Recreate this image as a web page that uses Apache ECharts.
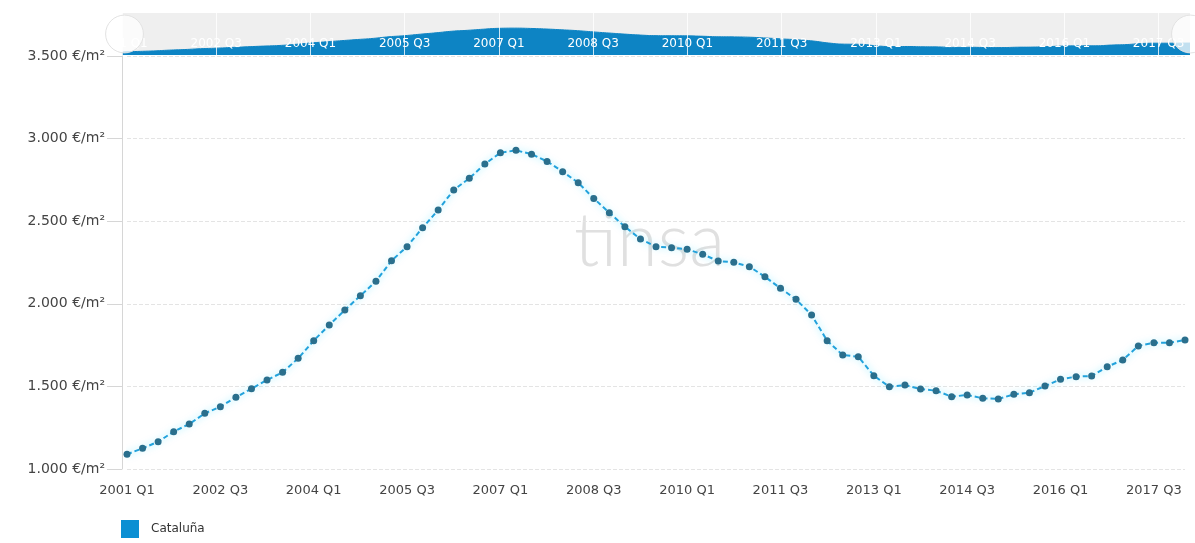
<!DOCTYPE html>
<html>
<head>
<meta charset="utf-8">
<script src="https://cdn.jsdelivr.net/npm/echarts@6/dist/echarts.min.js"></script>
<style>
  html, body { margin: 0; padding: 0; background: #fff; }
  #chart { width: 1195px; height: 543px; }
</style>
</head>
<body>
<div id="chart"></div>
<script>
// quarters 2001 Q1 .. 2018 Q1
var quarters = [];
for (var y = 2001; y <= 2018; y++) {
  for (var q = 1; q <= 4; q++) {
    if (y === 2018 && q > 1) break;
    quarters.push(y + ' Q' + q);
  }
}

// precio medio €/m2, Cataluña
var cataluna = [
  1089, 1125, 1165, 1226, 1272, 1337, 1377, 1434, 1486, 1539,
  1585, 1670, 1777, 1872, 1962, 2049, 2136, 2261, 2346, 2461,
  2568, 2689, 2760, 2846, 2914, 2929, 2906, 2862, 2800, 2733,
  2638, 2551, 2467, 2392, 2346, 2340, 2330, 2300, 2259, 2251,
  2225, 2164, 2094, 2027, 1932, 1777, 1690, 1680, 1565, 1498,
  1508, 1484, 1474, 1438, 1448, 1428, 1424, 1452, 1462, 1502,
  1543, 1559, 1563, 1619, 1660, 1745, 1764, 1764, 1781
];

var seriesName = 'Cataluña';

function euroLabel (v) {
  var s = String(v).replace(/\B(?=(\d{3})+(?!\d))/g, '.');
  return s + ' €/m²';
}

var chart = echarts.init(document.getElementById('chart'));

var option = {
  animation: false,
  textStyle: { fontFamily: 'DejaVu Sans' },
  grid: [
    { left: 127, right: 10, top: 56, bottom: 74 },
    // navigator
    { left: 122, right: 5, top: 13, height: 42, show: true, backgroundColor: '#efefef', borderWidth: 0 }
  ],
  graphic: [{
    type: 'text',
    left: 574,
    top: 205,
    z: 0,
    style: {
      text: 'tinsa',
      fontSize: 74,
      fontWeight: 300,
      fontFamily: 'Lato',
      fill: '#e0e0e0'
    }
  }],
  legend: {
    left: 116,
    top: 515,
    icon: 'rect',
    itemWidth: 18,
    itemHeight: 18,
    data: [{ name: seriesName, itemStyle: { color: '#0b8fd3' } }],
    textStyle: { fontSize: 12, color: '#333', fontFamily: 'DejaVu Sans', padding: [0, 0, 0, 7] }
  },
  xAxis: [{
    type: 'category',
    gridIndex: 0,
    data: quarters,
    boundaryGap: false,
    axisLine: { show: false },
    axisTick: { show: false },
    axisLabel: { interval: 5, color: '#444', fontSize: 13, margin: 15 },
    splitLine: { show: false }
  }, {
    type: 'category',
    gridIndex: 1,
    data: quarters,
    boundaryGap: false,
    z: 5,
    axisLine: { show: false },
    axisTick: { show: true, inside: true, interval: 5, length: 42, lineStyle: { color: 'rgba(255,255,255,0.8)', width: 1 } },
    axisLabel: { inside: true, interval: 5, color: '#fff', fontSize: 12, margin: 5 },
    splitLine: { show: false }
  }],
  yAxis: [{
    type: 'value',
    gridIndex: 0,
    min: 1000,
    max: 3500,
    interval: 500,
    offset: 5,
    axisLine: { show: true, lineStyle: { color: '#d6d6d6' } },
    axisTick: { show: true, length: 15, lineStyle: { color: '#d6d6d6' } },
    axisLabel: { formatter: euroLabel, color: '#444', fontSize: 14, margin: 17 },
    splitLine: { show: true, lineStyle: { color: '#e4e4e4', type: 'dashed' } }
  }, {
    type: 'value',
    gridIndex: 1,
    min: 850,
    max: 4100,
    show: false,
    splitLine: { show: false }
  }],
  dataZoom: [{
    type: 'slider',
    xAxisIndex: [0],
    start: 0,
    end: 100,
    left: 122,
    right: 5,
    top: 13,
    height: 42,
    showDataShadow: false,
    showDetail: false,
    brushSelect: false,
    moveHandleSize: 0,
    backgroundColor: 'rgba(0,0,0,0)',
    fillerColor: 'rgba(0,0,0,0)',
    borderColor: 'rgba(0,0,0,0)',
    handleIcon: 'circle',
    handleSize: '90%',
    handleStyle: { color: 'rgba(255,255,255,0.75)', borderColor: '#e2e2e2', borderWidth: 1 },
    z: 10
  }],
  series: [{
    name: seriesName,
    type: 'line',
    xAxisIndex: 0,
    yAxisIndex: 0,
    data: cataluna,
    symbol: 'circle',
    symbolSize: 7,
    showAllSymbol: true,
    itemStyle: { color: '#2a6f8d' },
    lineStyle: {
      color: '#22a2dc',
      width: 2,
      type: [5, 3],
      shadowColor: 'rgba(0,210,255,0.6)',
      shadowBlur: 7
    },
    z: 3
  }, {
    name: 'navigator',
    type: 'line',
    xAxisIndex: 1,
    yAxisIndex: 1,
    data: cataluna,
    symbol: 'none',
    smooth: true,
    lineStyle: { color: '#0d84c4', width: 1 },
    areaStyle: { color: '#0d84c4', opacity: 1 },
    silent: true,
    z: 2
  }]
};

chart.setOption(option);
</script>
</body>
</html>
